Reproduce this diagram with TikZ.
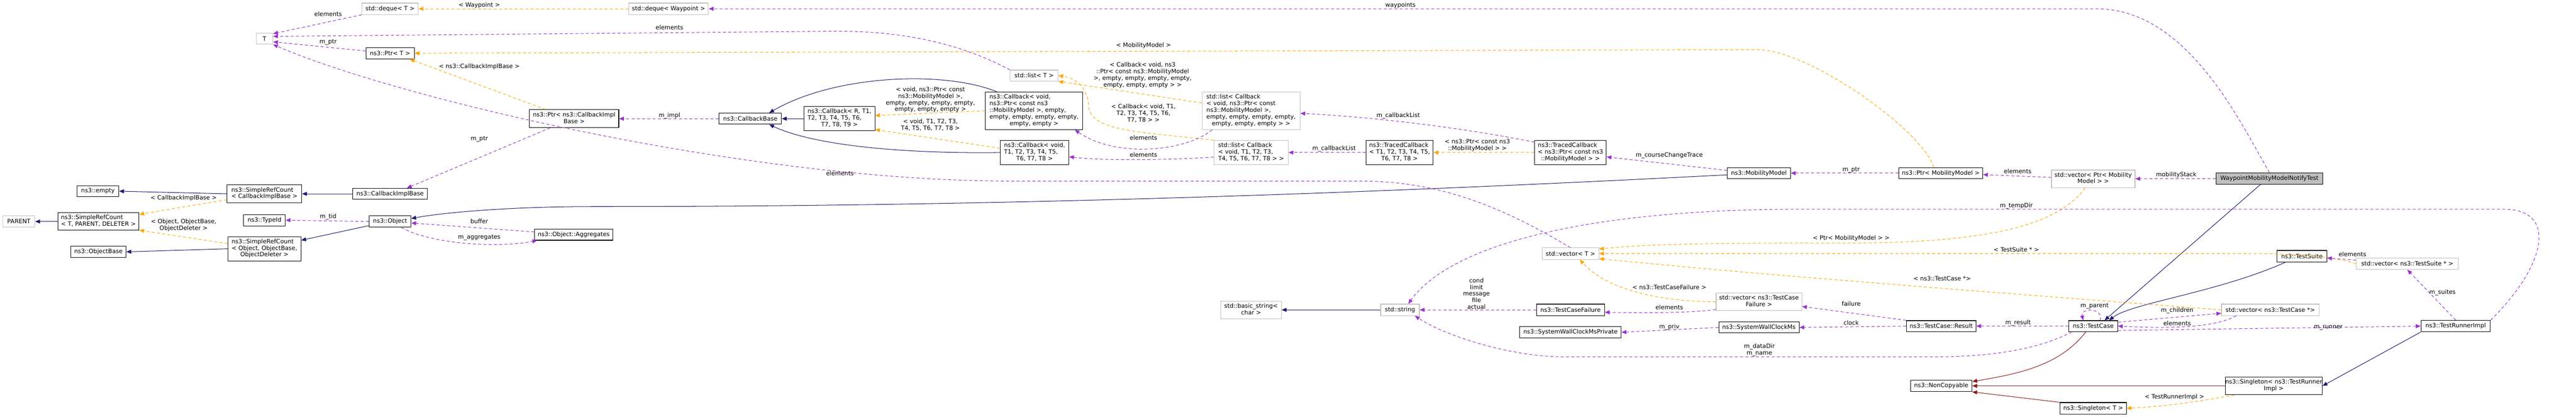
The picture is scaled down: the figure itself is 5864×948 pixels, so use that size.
\documentclass[tikz,border=0pt]{standalone}
\usepackage{fontspec}
\setmainfont{DejaVu Sans}
\usetikzlibrary{arrows.meta}
\definecolor{inhblue}{RGB}{25,25,112}
\definecolor{usepurple}{RGB}{154,50,205}
\definecolor{tplorange}{RGB}{255,165,0}
\definecolor{privred}{RGB}{139,26,26}
\definecolor{extgray}{RGB}{191,191,191}
\newcommand{\dxfont}{\fontsize{13.5}{15}\selectfont}
% left aligned lines, last line centred
\newcommand{\dxlines}[2]{\begin{tabular}{@{}l@{}}#1\\\multicolumn{1}{@{}c@{}}{#2}\end{tabular}}

\begin{document}
\begin{tikzpicture}[x=1pt, y=-1pt,
    cls/.style={draw=black, line width=1.3pt, fill=white, inner sep=0pt, align=center, font=\dxfont},
    ext/.style={cls, draw=extgray},
    lbl/.style={inner sep=0pt, align=center, font=\dxfont},
    inh/.style={draw=inhblue, line width=1.2pt, -{Triangle[length=11pt,width=9pt]}},
    priv/.style={inh, draw=privred},
    use/.style={draw=usepurple, line width=1.2pt, dash pattern=on 7pt off 5pt, -{Triangle[length=11pt,width=9pt]}},
    tpl/.style={use, draw=tplorange}
]
\useasboundingbox (0,0) rectangle (5864,948);

% Ref counting and object base
\node[ext, minimum width=38pt, minimum height=25pt] (T) at (602,88) {T};
\node[cls, minimum width=95pt, minimum height=25pt] (empty) at (223,435) {ns3::empty};
\node[cls, minimum width=170pt, minimum height=41pt] (srcCB) at (602,441) {\dxlines{ns3::SimpleRefCount}{< CallbackImplBase >}};
\node[ext, minimum width=73pt, minimum height=26pt] (parent) at (43,504) {PARENT};
\node[cls, minimum width=185pt, minimum height=40pt] (srcT) at (224,504) {\dxlines{ns3::SimpleRefCount}{< T, PARENT, DELETER >}};
\node[cls, minimum width=126pt, minimum height=25pt] (objbase) at (224,573) {ns3::ObjectBase};
\node[cls, minimum width=166pt, minimum height=55pt] (srcObj) at (602,566) {\dxlines{ns3::SimpleRefCount\\< Object, ObjectBase,}{ObjectDeleter >}};
\node[cls, minimum width=95pt, minimum height=26pt] (typeid) at (602,501) {ns3::TypeId};
\node[ext, minimum width=128pt, minimum height=26pt] (dequeT) at (888,20) {std::deque< T >};
\node[cls, minimum width=110pt, minimum height=26pt] (ptrT) at (888,121) {ns3::Ptr< T >};
\node[cls, minimum width=170pt, minimum height=25pt] (cbimpl) at (888,441) {ns3::CallbackImplBase};
\node[cls, minimum width=95pt, minimum height=26pt] (object) at (888,504) {ns3::Object};
\node[ext, minimum width=181pt, minimum height=26pt] (dequeWp) at (1522,20) {std::deque< Waypoint >};
\node[cls, minimum width=203pt, minimum height=41pt] (ptrCB) at (1307,270) {\dxlines{ns3::Ptr< ns3::CallbackImpl}{Base >}};
\node[cls, minimum width=178pt, minimum height=25pt] (aggr) at (1306,534) {ns3::Object::Aggregates};

% Callbacks
\node[cls, minimum width=142pt, minimum height=25pt] (cbbase) at (1708,270) {ns3::CallbackBase};
\node[cls, minimum width=161pt, minimum height=55pt] (cbR) at (1911,270) {\dxlines{ns3::Callback< R, T1,\\T2, T3, T4, T5, T6,}{T7, T8, T9 >}};
\node[ext, minimum width=109pt, minimum height=25pt] (listT) at (2354,172) {std::list< T >};
\node[cls, minimum width=222pt, minimum height=85pt] (cbPtr) at (2354,252) {\dxlines{ns3::Callback< void,\\ns3::Ptr< const ns3\\::MobilityModel >, empty,\\empty, empty, empty, empty,}{empty, empty >}};
\node[cls, minimum width=156pt, minimum height=55pt] (cbT) at (2355,347) {\dxlines{ns3::Callback< void,\\T1, T2, T3, T4, T5,}{T6, T7, T8 >}};
\node[ext, minimum width=223pt, minimum height=85pt] (listCbPtr) at (2848,252) {\dxlines{std::list< Callback\\< void, ns3::Ptr< const\\ns3::MobilityModel >,\\empty, empty, empty, empty,}{empty, empty, empty > >}};
\node[ext, minimum width=169pt, minimum height=55pt] (listCbT) at (2848,347) {\dxlines{std::list< Callback\\< void, T1, T2, T3,}{T4, T5, T6, T7, T8 > >}};
\node[cls, minimum width=153pt, minimum height=55pt] (tcbT) at (3186,347) {\dxlines{ns3::TracedCallback\\< T1, T2, T3, T4, T5,}{T6, T7, T8 >}};
\node[cls, minimum width=163pt, minimum height=55pt] (tcbPtr) at (3575,347) {\dxlines{ns3::TracedCallback\\< ns3::Ptr< const ns3}{::MobilityModel > >}};

% Strings and test framework
\node[ext, minimum width=138pt, minimum height=40pt] (basicstr) at (2848,705) {\dxlines{std::basic\_string<}{char >}};
\node[ext, minimum width=88pt, minimum height=26pt] (string) at (3187,705) {std::string};
\node[ext, minimum width=129pt, minimum height=26pt] (vectorT) at (3575,577) {std::vector< T >};
\node[cls, minimum width=155pt, minimum height=26pt] (failure) at (3575,705) {ns3::TestCaseFailure};
\node[cls, minimum width=231pt, minimum height=26pt] (swcPriv) at (3575,756) {ns3::SystemWallClockMsPrivate};
\node[cls, minimum width=144pt, minimum height=25pt] (mobility) at (4004,394) {ns3::MobilityModel};
\node[ext, minimum width=195pt, minimum height=40pt] (vecFail) at (4004,687) {\dxlines{std::vector< ns3::TestCase}{Failure >}};
\node[cls, minimum width=183pt, minimum height=25pt] (swc) at (4004,745) {ns3::SystemWallClockMs};
\node[cls, minimum width=191pt, minimum height=25pt] (ptrMM) at (4418,394) {ns3::Ptr< MobilityModel >};
\node[cls, minimum width=158pt, minimum height=25pt] (result) at (4419,742) {ns3::TestCase::Result};
\node[cls, minimum width=140pt, minimum height=26pt] (noncopy) at (4419,878) {ns3::NonCopyable};
\node[ext, minimum width=190pt, minimum height=40pt] (vecPtrMM) at (4765,407) {\dxlines{std::vector< Ptr< Mobility}{Model > >}};
\node[cls, minimum width=111pt, minimum height=25pt] (testcase) at (4765,742) {ns3::TestCase};
\node[cls, minimum width=151pt, minimum height=26pt] (singT) at (4765,929) {ns3::Singleton< T >};
\node[cls, fill=extgray, minimum width=243pt, minimum height=26pt] (wmmnt) at (5166,406) {WaypointMobilityModelNotifyTest};
\node[ext, minimum width=222pt, minimum height=26pt] (vecTC) at (5168,705) {std::vector< ns3::TestCase *>};
\node[cls, minimum width=220pt, minimum height=40pt] (singTRI) at (5176,878) {\dxlines{ns3::Singleton< ns3::TestRunner}{Impl >}};
\node[cls, minimum width=113pt, minimum height=26pt] (testsuite) at (5240,583) {ns3::TestSuite};
\node[ext, minimum width=232pt, minimum height=26pt] (vecTS) at (5480,600) {std::vector< ns3::TestSuite * >};
\node[cls, minimum width=158pt, minimum height=26pt] (runner) at (5590,742) {ns3::TestRunnerImpl};

% Inheritance
\draw[inh] (srcCB.west) -- (empty.east);
\draw[inh] (srcT) -- (parent);
\draw[inh] (srcObj.west) -- (objbase.east);
\draw[inh] (object.191) -- (srcObj.13);
\draw[inh] (cbimpl) -- (srcCB);
\draw[inh] (mobility.183) .. controls (3000,446) and (2200,470) .. (1350,470) .. controls (1150,470) and (1000,485) .. (object.8);
\draw[inh] (cbR) -- (cbbase);
\draw[inh] (cbPtr.153) .. controls (2150,160) and (1900,170) .. (cbbase.17);
\draw[inh] (cbT.west) .. controls (2050,350) and (1850,330) .. (cbbase.-17);
\draw[inh] (string) -- (basicstr);
\draw[inh] (wmmnt.214) -- (testcase.27);
\draw[inh] (testsuite.200) .. controls (5050,665) and (4850,690) .. (testcase.20);
\draw[inh] (runner.south west) -- (singTRI.east);
\draw[priv] (testcase.218) .. controls (4690,830) and (4600,850) .. (noncopy.8);
\draw[priv] (singTRI) -- (noncopy);
\draw[priv] (singT.north west) -- (noncopy.south east);

% Template instances
\draw[tpl] (srcCB.189) -- (srcT.10);
\draw[tpl] (srcObj.172) -- (srcT.-12);
\draw[tpl] (dequeWp) -- (dequeT);
\draw[tpl] (ptrCB.162) -- (ptrT.-17);
\draw[tpl] (ptrMM.141) .. controls (4380,300) and (4120,113) .. (4000,113) -- (ptrT.east);
\draw[tpl] (cbPtr.west) -- (cbR.5);
\draw[tpl] (cbT.173) -- (cbR.-17);
\draw[tpl] (listCbPtr.171) -- (listT.south east);
\draw[tpl] (listCbT.north west) .. controls (2600,300) and (2480,300) .. (2478,240) .. controls (2476,200) and (2450,178) .. (listT.east);
\draw[tpl] (tcbPtr) -- (tcbT);
\draw[tpl] (vecPtrMM.228) .. controls (4680,520) and (4500,553) .. (4200,553) .. controls (3900,553) and (3750,555) .. (vectorT.9);
\draw[tpl] (vecTS.west) .. controls (5300,580) and (5200,577) .. (5100,577) -- (vectorT.east);
\draw[tpl] (vecTC.west) .. controls (4600,670) and (4000,625) .. (vectorT.-10);
\draw[tpl] (vecFail.west) .. controls (3750,685) and (3650,650) .. (vectorT.-33);
\draw[tpl] (singTRI.193) .. controls (5000,915) and (4920,925) .. (singT.east);

% Members
\draw[use] (dequeT.south west) -- (T.30);
\draw[use] (ptrT.175) -- (T.-20);
\draw[use] (listT.north west) .. controls (2150,80) and (2000,71) .. (1900,71) -- (T.15);
\draw[use] (vectorT.north) .. controls (3450,490) and (3300,412) .. (3100,412) -- (2300,412) .. controls (1700,412) and (900,222) .. (T.south east);
\draw[use] (object.west) -- (typeid.east);
\draw[use] (aggr.176) -- (object.-4);
\draw[use] (object.-28) .. controls (980,555) and (1130,565) .. (aggr.189);
\draw[use] (ptrCB.201) -- (cbimpl.19);
\draw[use] (cbbase) -- (ptrCB);
\draw[use] (listCbPtr.206) .. controls (2700,345) and (2540,360) .. (cbPtr.-25);
\draw[use] (listCbT.187) .. controls (2650,365) and (2500,365) .. (cbT.-7);
\draw[use] (tcbT) -- (listCbT);
\draw[use] (tcbPtr.164) .. controls (3300,285) and (3100,265) .. (listCbPtr.-3);
\draw[use] (mobility.175) -- (tcbPtr.-7);
\draw[use] (ptrMM) -- (mobility);
\draw[use] (vecPtrMM.178) -- (ptrMM.-2);
\draw[use] (wmmnt) -- (vecPtrMM);
\draw[use] (wmmnt.north) .. controls (5100,280) and (4980,20) .. (4772,20) -- (dequeWp.east);
\draw[use] (failure) -- (string);
\draw[use] (vecFail.190) .. controls (3850,712) and (3750,712) .. (failure.-4);
\draw[use] (swc.west) -- (swcPriv.east);
\draw[use] (result.north west) -- (vecFail.-6);
\draw[use] (result.west) -- (swc.east);
\draw[use] (testcase) -- (result);
\draw[use] (testcase.40) .. controls (4790,700) and (4735,700) .. (testcase.150);
\draw[use] (testcase.9) -- (vecTC.184);
\draw[use] (vecTC.190) .. controls (5040,745) and (4950,748) .. (testcase.east);
\draw[use] (testcase.195) .. controls (4650,790) and (4550,812) .. (4400,812) -- (3560,812) .. controls (3450,812) and (3300,770) .. (string.-22);
\draw[use] (testcase.-10) -- (runner.west);
\draw[use] (runner.north east) .. controls (5800,600) and (5820,476) .. (5700,476) -- (4100,476) .. controls (3600,476) and (3300,560) .. (string.36);
\draw[use] (runner.north) -- (vecTS.south);
\draw[use] (vecTS) -- (testsuite);

% Edge labels
\node[lbl] (lElemDeque) at (747,32) {elements};
\node[lbl] (lPtrT) at (747,96) {m\_ptr};
\node[lbl] (lSrcCB) at (418,451) {< CallbackImplBase >};
\node[lbl] (lSrcObj) at (418,512) {< Object, ObjectBase,\\ObjectDeleter >};
\node[lbl] (lTid) at (747,493) {m\_tid};
\node[lbl] (lWaypoint) at (1091,12) {< Waypoint >};
\node[lbl] (lElemList) at (1524,62) {elements};
\node[lbl] (lPtrCB) at (1091,152) {< ns3::CallbackImplBase >};
\node[lbl] (lImpl) at (1524,263) {m\_impl};
\node[lbl] (lPtrImpl) at (1091,317) {m\_ptr};
\node[lbl] (lBuffer) at (1091,503) {buffer};
\node[lbl] (lAggr) at (1091,540) {m\_aggregates};
\node[lbl] (lCbPtr) at (2118,227) {< void, ns3::Ptr< const\\ns3::MobilityModel >,\\empty, empty, empty, empty,\\empty, empty, empty >};
\node[lbl] (lCbT) at (2118,284) {< void, T1, T2, T3,\\T4, T5, T6, T7, T8 >};
\node[lbl] (lElemVec) at (1912,394) {elements};
\node[lbl] (lWaypoints) at (3188,12) {waypoints};
\node[lbl] (lMobility) at (2603,104) {< MobilityModel >};
\node[lbl] (lListPtr) at (2601,171) {< Callback< void, ns3\\::Ptr< const ns3::MobilityModel\\>, empty, empty, empty, empty,\\empty, empty, empty > >};
\node[lbl] (lListT) at (2603,258) {< Callback< void, T1,\\T2, T3, T4, T5, T6,\\T7, T8 > >};
\node[lbl] (lElemCbPtr) at (2603,313) {elements};
\node[lbl] (lElemCbT) at (2603,352) {elements};
\node[lbl] (lCbListT) at (3037,338) {m\_callbackList};
\node[lbl] (lCbListPtr) at (3183,263) {m\_callbackList};
\node[lbl] (lTcbPtr) at (3363,331) {< ns3::Ptr< const ns3\\::MobilityModel > >};
\node[lbl] (lCourse) at (3800,354) {m\_courseChangeTrace};
\node[lbl] (lVecFail) at (3800,653) {< ns3::TestCaseFailure >};
\node[lbl] (lElemFail) at (3800,699) {elements};
\node[lbl] (lFields) at (3361,668) {cond\\limit\\message\\file\\actual};
\node[lbl] (lPriv) at (3800,744) {m\_priv};
\node[lbl] (lDataDir) at (4005,796) {m\_dataDir\\m\_name};
\node[lbl] (lPtrMM) at (4214,387) {m\_ptr};
\node[lbl] (lElemMM) at (4593,390) {elements};
\node[lbl] (lStack) at (4954,398) {mobilityStack};
\node[lbl] (lTempDir) at (4590,468) {m\_tempDir};
\node[lbl] (lVecPtrMM) at (4214,542) {< Ptr< MobilityModel > >};
\node[lbl] (lVecTS) at (4590,568) {< TestSuite * >};
\node[lbl] (lVecTC) at (4421,634) {< ns3::TestCase *>};
\node[lbl] (lFailure) at (4214,691) {failure};
\node[lbl] (lClock) at (4214,734) {clock};
\node[lbl] (lResult) at (4594,735) {m\_result};
\node[lbl] (lParent) at (4768,697) {m\_parent};
\node[lbl] (lChildren) at (4956,707) {m\_children};
\node[lbl] (lElemTC) at (4956,736) {elements};
\node[lbl] (lSingleton) at (4950,903) {< TestRunnerImpl >};
\node[lbl] (lRunner) at (5300,745) {m\_runner};
\node[lbl] (lSuites) at (5560,665) {m\_suites};
\node[lbl] (lElemTS) at (5355,578) {elements};

\end{tikzpicture}
\end{document}
